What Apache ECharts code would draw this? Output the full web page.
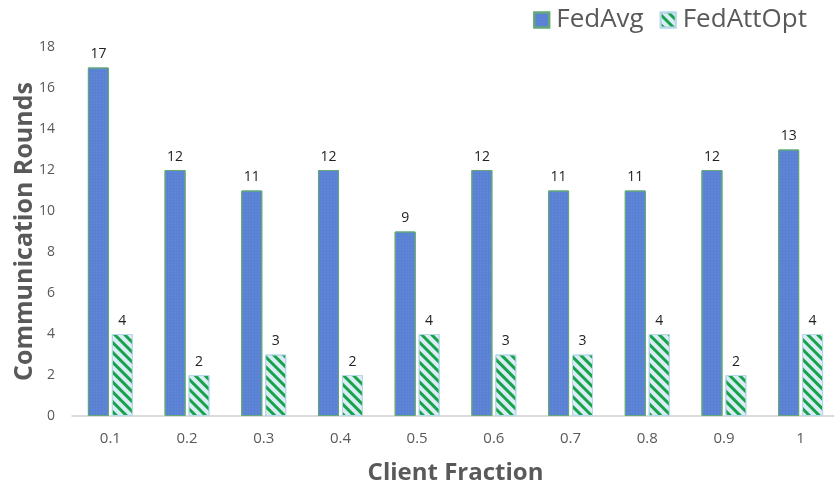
<!DOCTYPE html>
<html>
<head>
<meta charset="utf-8">
<script src="https://cdn.jsdelivr.net/npm/echarts@6/dist/echarts.min.js"></script>
<style>
    html, body { margin: 0; padding: 0; background: #fff; }
    #chart { width: 834px; height: 485px; }
</style>
</head>
<body>
<div id="chart"></div>
<script>
const categories = ["0.1", "0.2", "0.3", "0.4", "0.5", "0.6", "0.7", "0.8", "0.9", "1"];
const fedAvg = [17, 12, 11, 12, 9, 12, 11, 11, 12, 13];
const fedAttOpt = [4, 2, 3, 2, 4, 3, 3, 4, 2, 4];

const font = "Open Sans";
const grey = "#595959";

let myChart = echarts.init(document.getElementById("chart"));

const chartOption = {
    animation: false,
    textStyle: { fontFamily: font },
    legend: {
        top: 2,
        right: 22,
        icon: "rect",
        itemWidth: 15,
        itemHeight: 15,
        itemGap: 16,
        textStyle: { fontSize: 26, color: grey, fontFamily: font, padding: [0, 0, 0, 2] },
        data: ["FedAvg", "FedAttOpt"],
    },
    grid: {
        left: 72,
        right: -5,
        top: 47,
        bottom: 69,
        outerBoundsMode: "none",
    },
    xAxis: {
        type: "category",
        data: categories,
        name: "Client Fraction",
        nameLocation: "center",
        nameGap: 45,
        nameTextStyle: { fontSize: 24, fontWeight: "bold", color: grey, fontFamily: font },
        axisLine: { lineStyle: { color: "#d0d0d0", width: 1.5 } },
        axisTick: { show: false },
        axisLabel: { fontSize: 15, color: grey, margin: 15 },
    },
    yAxis: {
        type: "value",
        min: 0,
        max: 18,
        interval: 2,
        name: "Communication Rounds",
        nameLocation: "center",
        nameGap: 35,
        nameMoveOverlap: false,
        nameTextStyle: { fontSize: 25, fontWeight: "bold", color: grey, fontFamily: font },
        splitLine: { show: false },
        axisLine: { show: false },
        axisLabel: { fontSize: 14, color: grey, margin: 17 },
    },
    series: [
        {
            name: "FedAvg",
            type: "bar",
            data: fedAvg,
            barWidth: 21,
            barGap: "14%",
            itemStyle: {
                color: "#5a80d4",
                borderColor: "#62a878",
                borderWidth: 1,
                decal: {
                    symbol: "rect",
                    symbolSize: 0.5,
                    dashArrayX: [2, 1],
                    dashArrayY: [2, 1],
                    color: "rgba(140,170,235,0.5)",
                },
            },
            label: { show: true, position: "top", fontSize: 14, color: "#222", distance: 6 },
        },
        {
            name: "FedAttOpt",
            type: "bar",
            data: fedAttOpt,
            barWidth: 21,
            itemStyle: {
                color: "#dcecf6",
                borderColor: "#b8d8ea",
                borderWidth: 1,
                decal: {
                    symbol: "rect",
                    symbolSize: 1,
                    dashArrayX: [1, 0],
                    dashArrayY: [2.5, 4],
                    rotation: Math.PI / 4,
                    color: "#17a34a",
                },
            },
            label: { show: true, position: "top", fontSize: 14, color: "#222", distance: 6 },
        },
    ],
};

myChart.setOption(chartOption);
window.onresize = () => {
    myChart.resize();
};
</script>
</body>
</html>
